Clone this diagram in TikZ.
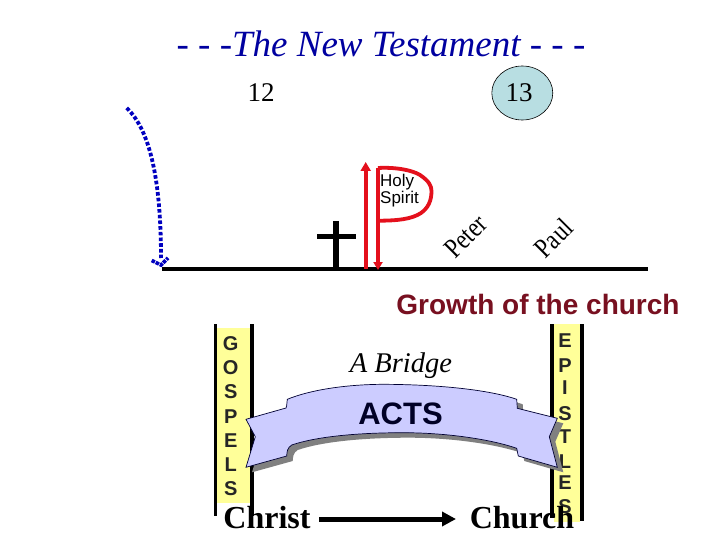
\documentclass[tikz,border=0pt]{standalone}
\usepackage{fontspec}
\usepackage{graphicx}
\setmainfont{Liberation Serif}
\setsansfont{Liberation Sans}
\usetikzlibrary{arrows.meta,shapes.geometric}
\definecolor{ribbon}{RGB}{204,204,255}
\definecolor{ribshadow}{RGB}{128,128,128}
\definecolor{paleyellow}{RGB}{255,255,153}
\definecolor{circleblue}{RGB}{184,222,226}
\definecolor{growth}{RGB}{120,16,32}
\definecolor{redline}{RGB}{228,16,28}
\definecolor{dotblue}{RGB}{0,0,192}
\definecolor{titleblue}{RGB}{0,0,160}
\tikzset{
  pxfont/.style={font=\fontsize{#1}{#1}\selectfont, inner sep=0pt},
  blackbar/.style={line width=3.6pt,black},
  letter/.style={font=\sffamily\bfseries\fontsize{20}{20}\selectfont, inner sep=0pt, text=black!85},
  redstroke/.style={line width=3.8pt,redline},
}
\newcommand{\ribbonpath}{
  (246,419.3) -- (286,408) .. controls (287.5,404) and (286.5,402) .. (287.3,399.3)
  .. controls (310,390) and (345,384.5) .. (383,384.3)
  .. controls (440,384.5) and (490,390) .. (516.7,399.3)
  -- (517.3,408.3) -- (557.3,418.3) -- (549.3,436.7) -- (557.3,467.3)
  -- (518.3,456) -- (516.7,448.3)
  .. controls (490,439) and (445,432.7) .. (403,432.7)
  .. controls (355,432.7) and (315,437) .. (291.7,445)
  .. controls (287,448) and (287,452) .. (286.7,456)
  -- (246,467.3) -- (255.3,436.7) -- cycle
}
\begin{document}
\begin{tikzpicture}[x=1pt,y=-1pt]
\useasboundingbox (0,0) rectangle (720,540);
\fill[white] (0,0) rectangle (720,540);
% title
\node[pxfont=37, text=titleblue] (title) at (381,44) {\itshape - - -The New Testament - - -};
\node[pxfont=27] (n12) at (261,93) {12};
\node[ellipse, draw=black, line width=0.6pt, fill=circleblue, minimum width=61pt, minimum height=54pt, inner sep=0pt] (n13) at (522.3,93) {};
\node[pxfont=27] (n13t) at (519,93) {13};
% timeline
\coordinate (tl) at (162,269);
\coordinate (tr) at (648,269);
\draw[line width=4pt] (tl) -- (tr);
% cross
\coordinate (ct) at (336,221);
\coordinate (cb) at (336,269);
\coordinate (cl) at (317,236);
\coordinate (cr) at (356,236);
\draw[line width=5.5pt] (ct) -- (cb);
\draw[line width=5pt] (cl) -- (cr);
% blue dotted curve
\coordinate (bs) at (126.7,108);
\coordinate (be) at (161,265);
\draw[dotblue, line width=3.8pt, dash pattern=on 3.6pt off 2.1pt]
  (bs) .. controls (150,130) and (161,180) .. (161,258);
\draw[dotblue, line width=3.6pt, dash pattern=on 3.5pt off 1pt] (151.7,260.5) -- (be) -- (168,258);
% red arrows and flag
\coordinate (ua) at (365.7,269);
\coordinate (ub) at (365.7,162);
\draw[redstroke, -{Triangle[length=9pt,width=10pt]}] (ua) -- (ub);
\coordinate (da) at (378,168);
\coordinate (db) at (378,270);
\draw[redstroke, {}-{Triangle[length=8pt,width=9pt]}] (da) -- (db);
\draw[redstroke] (da) .. controls (395,167) and (412,170) .. (420,175)
  .. controls (429,181) and (431.5,186) .. (431.5,191)
  .. controls (431.5,201) and (428,208) .. (421,213)
  .. controls (412,219) and (398,220.7) .. (378,220.7);
\node[font=\sffamily\fontsize{17}{17}\selectfont, inner sep=0pt, align=left, anchor=west] (hs) at (380,190.5) {Holy\\Spirit};
% rotated names
\node[pxfont=28, rotate=45] (peter) at (466,236.5) {\scalebox{.82}[1]{Peter}};
\node[pxfont=28, rotate=45] (paul) at (553.5,238) {\scalebox{.82}[1]{Paul}};
% growth
\node[font=\sffamily\bfseries\fontsize{28}{28}\selectfont, inner sep=0pt, text=growth] (growthlabel) at (538,304) {Growth of the church};
% gospels column
\fill[paleyellow] (217,328) rectangle (250,503);
\draw[blackbar] (215.5,324) -- (215.5,516);
\draw[blackbar] (252,324) -- (252,516);
\foreach \t/\y [count=\i] in {G/344,O/367.7,S/391.7,P/416.7,E/440.7,L/465,S/488.3}
  \node[letter] (gos\i) at (230.7,\y) {\t};
% epistles column
\fill[paleyellow] (554,324) rectangle (580,522);
\draw[blackbar] (552,324) -- (552,518);
\draw[blackbar] (582,324) -- (582,521);
\foreach \t/\y [count=\i] in {E/340.7,P/365.7,I/388,S/414,T/436.7,L/461.7,E/483,S/507}
  \node[letter] (epi\i) at (565,\y) {\t};
% ribbon
\fill[ribshadow, shift={(6pt,-5pt)}, yshift=0pt] \ribbonpath;
\draw[fill=ribbon, draw=black!80!blue, line width=0.7pt] \ribbonpath;
\node[pxfont=28.5] (bridge) at (401,366) {\itshape A Bridge};
\node[font=\sffamily\bfseries\fontsize{31}{31}\selectfont, inner sep=0pt, text=black!85!blue] (acts) at (400.5,414) {ACTS};
% bottom
\node[font=\bfseries\fontsize{32}{32}\selectfont, inner sep=0pt, anchor=base] (christ) at (267,528) {Christ};
\node[font=\bfseries\fontsize{32}{32}\selectfont, inner sep=0pt, anchor=base] (church) at (522,528) {Church};
\draw[line width=5pt, -{Triangle[length=14pt,width=14pt]}] (319,519) -- (456,519);
\end{tikzpicture}
\end{document}
